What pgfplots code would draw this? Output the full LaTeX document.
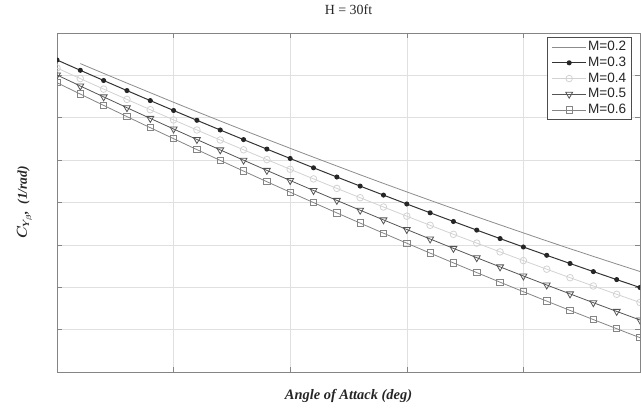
\documentclass[border=0pt]{standalone}
\usepackage{amsmath}
\usepackage{pgfplots}
\pgfplotsset{compat=1.18}
\usepackage{pgfplotstable}
\usepackage{fontspec}
\setmainfont{Liberation Serif}
\newfontfamily\legendfont{Liberation Sans}

\definecolor{cA}{HTML}{8C8C8C}
\definecolor{cB}{HTML}{333333}
\definecolor{cC}{HTML}{D2D2D2}
\definecolor{cD}{HTML}{555555}
\definecolor{cE}{HTML}{858585}

\pgfplotstableread{
x y
0.2 308.4
0.4 298.6
0.6 288.9
0.8 279.3
1.0 269.7
1.2 260.3
1.4 251.0
1.6 241.8
1.8 232.7
2.0 223.7
2.2 214.8
2.4 206.0
2.6 197.2
2.8 188.6
3.0 180.1
3.2 171.7
3.4 163.4
3.6 155.2
3.8 147.1
4.0 139.1
4.2 131.1
4.4 123.3
4.6 115.6
4.8 108.0
5.0 100.5
}\Mtwo

\pgfplotstableread{
x y
0.0 312.0
0.2 301.7
0.4 291.5
0.6 281.4
0.8 271.4
1.0 261.5
1.2 251.7
1.4 242.0
1.6 232.4
1.8 222.9
2.0 213.5
2.2 204.2
2.4 195.0
2.6 185.9
2.8 176.9
3.0 168.0
3.2 159.2
3.4 150.5
3.6 141.9
3.8 133.4
4.0 125.0
4.2 116.7
4.4 108.5
4.6 100.4
4.8 92.4
5.0 84.5
}\Mthree

\pgfplotstableread{
x y
0.0 304.0
0.2 293.4
0.4 282.9
0.6 272.6
0.8 262.3
1.0 252.1
1.2 242.0
1.4 232.0
1.6 222.2
1.8 212.4
2.0 202.7
2.2 193.1
2.4 183.6
2.6 174.3
2.8 165.0
3.0 155.8
3.2 146.7
3.4 137.7
3.6 128.9
3.8 120.1
4.0 111.4
4.2 102.8
4.4 94.3
4.6 86.0
4.8 77.7
5.0 69.5
}\Mfour

\pgfplotstableread{
x y
0.0 297.0
0.2 286.0
0.4 275.1
0.6 264.3
0.8 253.6
1.0 243.0
1.2 232.5
1.4 222.1
1.6 211.8
1.8 201.6
2.0 191.5
2.2 181.5
2.4 171.6
2.6 161.8
2.8 152.1
3.0 142.5
3.2 133.0
3.4 123.6
3.6 114.3
3.8 105.1
4.0 96.0
4.2 87.0
4.4 78.1
4.6 69.3
4.8 60.6
5.0 52.0
}\Mfive

\pgfplotstableread{
x y
0.0 289.3
0.2 277.9
0.4 266.6
0.6 255.4
0.8 244.3
1.0 233.3
1.2 222.4
1.4 211.6
1.6 200.9
1.8 190.3
2.0 179.8
2.2 169.4
2.4 159.1
2.6 148.9
2.8 138.8
3.0 128.8
3.2 118.9
3.4 109.1
3.6 99.4
3.8 89.8
4.0 80.3
4.2 70.9
4.4 61.6
4.6 52.4
4.8 43.3
5.0 34.3
}\Msix

\begin{document}
\begin{tikzpicture}
\path[use as bounding box] (0,0) rectangle (641bp,414bp);
\begin{axis}[
  at={(57bp,42bp)}, anchor=south west,
  scale only axis, width=583bp, height=339bp,
  xmin=0, xmax=5, ymin=0, ymax=339,
  xtick={1,2,3,4},
  ytick={42.375,84.75,127.125,169.5,211.875,254.25,296.625},
  xticklabels={}, yticklabels={},
  tick pos=both, tick align=inside,
  major tick length=5bp,
  every tick/.style={cE, line width=0.6bp},
  axis line style={cE, line width=0.9bp},
  grid=major,
  major grid style={gray!24, line width=0.6bp},
  clip marker paths=true,
  title={H = 30ft},
  title style={at={(axis description cs:0.5,1.0383)}, anchor=base, font=\fontsize{14}{16}\selectfont, text=black!85},
  xlabel={\textbf{\textit{Angle of Attack (deg)}}},
  every axis x label/.style={at={(axis description cs:0.5,-0.0811)}, anchor=base, font=\fontsize{14.5}{16}\selectfont, text=black!85},
  ylabel={$\boldsymbol{C_{Y_{\beta}}}$\textbf{\textit{, \ (1/rad)}}},
  every axis y label/.style={at={(axis description cs:-0.0515,0.5)}, anchor=base, rotate=90, font=\fontsize{13.5}{15}\selectfont, text=black!85},
  legend style={
    at={(axis description cs:0.9863,0.9882)}, anchor=north east,
    draw=black!70, line width=0.6bp, fill=white,
    font=\legendfont\fontsize{13.6}{13.6}\selectfont, text=black!85,
    inner xsep=4bp, inner ysep=2bp, row sep=0pt,
    nodes={inner sep=1.5bp, text height=10bp, text depth=2.7bp},
  },
  legend cell align=left,
  legend image code/.code={\draw[mark repeat=2,mark phase=2,#1] plot coordinates {(0bp,0bp)(17bp,0bp)(34bp,0bp)};},
]
\addplot[cA, line width=0.8bp, no markers] table[x=x,y=y]{\Mtwo};
\addlegendentry{M=0.2}
\addplot[cB, line width=1bp, mark=*, mark size=2bp, mark options={fill=black!85, draw=black!85}] table[x=x,y=y]{\Mthree};
\addlegendentry{M=0.3}
\addplot[cC, line width=0.8bp, mark=o, mark size=3.3bp, mark options={fill=none}] table[x=x,y=y]{\Mfour};
\addlegendentry{M=0.4}
\addplot[cD, line width=0.8bp, mark=triangle, mark size=4bp, mark options={rotate=180, fill=none}] table[x=x,y=y]{\Mfive};
\addlegendentry{M=0.5}
\addplot[cE, line width=0.8bp, mark=square, mark size=3.2bp, mark options={fill=none}] table[x=x,y=y]{\Msix};
\addlegendentry{M=0.6}
\end{axis}
\end{tikzpicture}
\end{document}
